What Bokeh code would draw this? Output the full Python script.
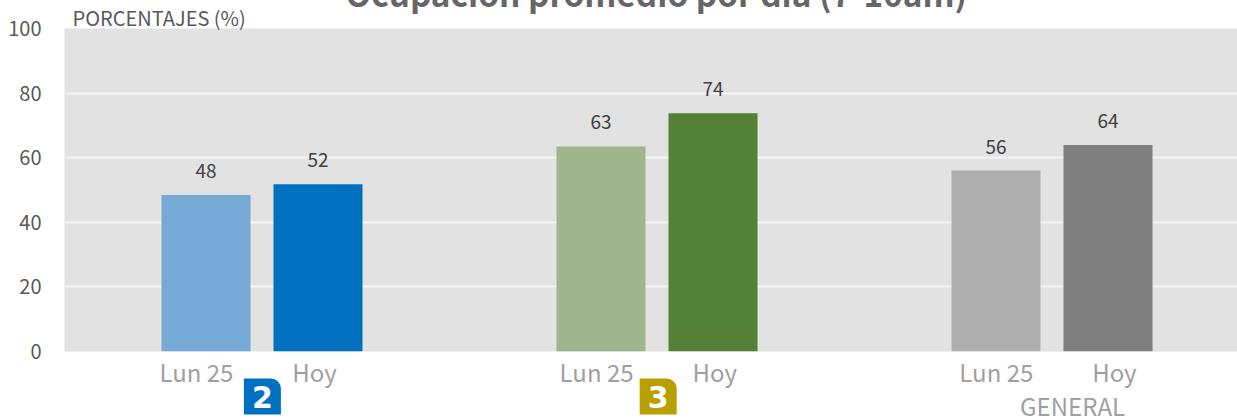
from bokeh.plotting import figure
from bokeh.models import Range1d, ColumnDataSource, FixedTicker
from bokeh.core.properties import value
from bokeh.embed import file_html
from bokeh.resources import INLINE

FONT = "Noto Sans CJK JP"
TITLE = "Ocupación promedio por día (7-10am)"
Y_TITLE = "PORCENTAJES (%)"
GROUP_CENTERS = [0.5, 1.5, 2.5]
PREV_VALUES = [48.49, 63.49, 56.0]
TODAY_VALUES = [51.8, 73.8, 63.9]
PREV_COLORS = ["#74AAD5", "#9FB58E", "#AEAEAE"]
TODAY_COLORS = ["#0070C0", "#538135", "#7F7F7F"]
PREV_NAME = "Lun 25"
TODAY_NAME = "Hoy"
PREV_LABEL_X = [0.334, 1.347, 2.359]
TODAY_LABEL_X = [0.633, 1.646, 2.658]
BADGE_TEXT = ["2", "3"]
BADGE_COLORS = ["#0070C0", "#B8A000"]
BADGE_X = [0.501, 1.503]
GENERAL_NAME = "GENERAL"
GENERAL_X = 2.552
Y_TICKS = [0, 20, 40, 60, 80, 100]

W, H = 1237, 418
LEFT, TOP, BOTTOM = 64, 28, 67
UNIT = 395
p = figure(width=W, height=H, output_backend="svg", toolbar_location=None,
           x_range=Range1d(0, (W - LEFT) / UNIT), y_range=Range1d(0, 100),
           min_border_left=LEFT, min_border_right=0, min_border_top=TOP, min_border_bottom=BOTTOM,
           background_fill_color="#E2E2E2", border_fill_color="#FFFFFF", outline_line_color=None)

p.xaxis.visible = False
p.xgrid.visible = False
p.ygrid.ticker = FixedTicker(ticks=Y_TICKS)
p.ygrid.grid_line_color = "#F4F4F4"
p.ygrid.grid_line_width = 2
yax = p.yaxis[0]
yax.ticker = FixedTicker(ticks=Y_TICKS)
yax.axis_line_color = None
yax.major_tick_line_color = None
yax.minor_tick_line_color = None
yax.major_label_standoff = 17
yax.major_label_text_font = FONT
yax.major_label_text_font_size = "20px"
yax.major_label_text_color = "#595959"

BAR_W = 89 / UNIT
OFF = 56 / UNIT
prev_x = [c - OFF for c in GROUP_CENTERS]
today_x = [c + OFF for c in GROUP_CENTERS]
p.vbar(x=prev_x, top=PREV_VALUES, bottom=0, width=BAR_W, fill_color=PREV_COLORS, line_color=None)
p.vbar(x=today_x, top=TODAY_VALUES, bottom=0, width=BAR_W, fill_color=TODAY_COLORS, line_color=None)

def txt(x, y, s, size, color, y_off=0, align="center", baseline="middle", style="normal", font=FONT):
    src = ColumnDataSource(dict(x=x, y=y, t=s))
    return p.text(x="x", y="y", text="t", source=src, level="overlay", y_offset=y_off,
                  text_font=value(font), text_font_size=size, text_color=color,
                  text_align=align, text_baseline=baseline, text_font_style=style)

for xs, vals in ((prev_x, PREV_VALUES), (today_x, TODAY_VALUES)):
    txt(xs, vals, [str(round(v)) for v in vals], "19px", "#404040", y_off=-24)

txt(PREV_LABEL_X, [0] * 3, [PREV_NAME] * 3, "24px", "#A0A0A0", y_off=20)
txt(TODAY_LABEL_X, [0] * 3, [TODAY_NAME] * 3, "24px", "#A0A0A0", y_off=20)
txt([GENERAL_X], [0], [GENERAL_NAME], "24px", "#A0A0A0", y_off=54)

half = (37 / 2) / UNIT
for bx, color, d in zip(BADGE_X, BADGE_COLORS, BADGE_TEXT):
    p.quad(left=[bx - half], right=[bx + half], top=[-27 * 100 / 323], bottom=[-63 * 100 / 323],
           fill_color=color, line_color=None, level="overlay",
           border_radius=dict(top_left=0, top_right=10, bottom_right=0, bottom_left=0))
    txt([bx], [0], [d], "30px", "#FFFFFF", y_off=45, style="bold", font="DejaVu Sans")

txt([(345 - LEFT) / UNIT], [100], [TITLE], "33.3px", "#666666", y_off=-8 - TOP,
    align="left", baseline="alphabetic", style="bold")
txt([(72 - LEFT) / UNIT], [100], [Y_TITLE], "20px", "#595959", y_off=17 - TOP, align="left")

open("out.html", "w").write(file_html(p, INLINE))
